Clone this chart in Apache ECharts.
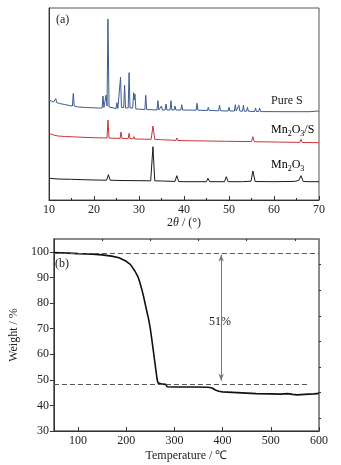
<!DOCTYPE html>
<html>
<head>
<meta charset="utf-8">
<script src="https://cdn.jsdelivr.net/npm/echarts@6/dist/echarts.min.js"></script>
<style>
  html, body { margin: 0; padding: 0; background: #fff; }
  #main { width: 341px; height: 465px; }
</style>
</head>
<body>
<div id="main"></div>
<script>
// (a) XRD patterns, [2theta, intensity in a.u. with stacking offset]
var pureS = [[10,100],[10.5,99],[11,98],[11.3,98],[11.5,101.5],[11.7,97.5],[12.3,96.5],[13.5,95.5],[14.5,94.5],[15.2,94],[15.4,106.5],[15.6,94],
  [16.5,93],[18.3,92.5],[18.5,94.5],[18.7,92.5],[21,92],[21.8,92],[22.0,104],[22.2,92.5],[22.5,93],[22.7,105],[22.9,94],[23.1,181],[23.35,93],
  [24.9,91.5],[25.1,97.3],[25.3,91.5],[25.7,92],[25.9,122.7],[26.1,92.5],[26.6,92.5],[26.8,114.7],[27.0,92],[27.6,92],[27.8,127.3],[28.0,92],
  [28.6,92],[28.8,107.3],[28.95,100],[29.1,106],[29.3,91],[31.3,90.5],[31.5,104.7],[31.7,90.5],[34.0,90],[34.2,99.3],[34.4,90],[34.8,90],
  [35.0,94],[35.2,90],[35.8,90],[36.0,96],[36.2,90],[36.9,90],[37.1,99.3],[37.3,90],[37.8,90],[38.0,94],[38.2,90],[39.3,90],[39.5,95.3],
  [39.7,90],[42.7,89.8],[42.9,96.7],[43.1,89.8],[45.2,89.5],[45.4,92.7],[45.6,89.5],[45.85,89.5],[46.0,91.3],[46.15,89.5],[47.7,89.2],
  [47.9,94.7],[48.1,89.2],[49.8,89],[50.0,92.7],[50.2,89],[51.2,89],[51.4,95.3],[51.6,89],[52.0,89],[52.2,94.7],[52.4,89],[53.0,88.8],
  [53.2,94.7],[53.4,88.8],[53.9,88.8],[54.1,92.7],[54.3,88.8],[55.7,88.5],[55.9,92],[56.1,88.5],[56.6,88.5],[56.8,92],[57.0,88.5],
  [57.2,88.5],[57.35,90.5],[57.5,88.4],[58.4,88.4],[58.6,90],[58.8,88.3],[62,88.3],[65.4,88.3],[65.6,90],[65.8,88.3],[66.0,88.3],
  [66.2,89.5],[66.4,88.3],[68,88.3],[69.7,89],[70,88.3]];
var mnS = [[10,66.7],[11,65],[12,64],[13.5,63.5],[15.3,63.2],[15.5,64.5],[15.7,63],[18,62.6],[20,62.3],[22.9,62],[23.1,80],[23.35,62],
  [24,61.8],[25.8,61.6],[26.0,68],[26.2,61.6],[26.7,61.5],[26.8,63.5],[26.9,61.5],[27.6,61.4],[27.8,66.7],[28.0,61.4],[28.7,61.2],
  [28.9,63.3],[29.1,61],[31.3,60.8],[31.5,62.5],[31.7,60.8],[32.7,60.7],[33.1,74],[33.5,60.6],[35,60.3],[38.2,59.6],[38.4,62],[38.6,59.5],
  [40,59.3],[45.2,59],[45.4,60],[45.6,59],[49.2,58.7],[49.4,60],[49.6,58.7],[55.0,58.4],[55.3,63.3],[55.6,58.3],[60,58],[65.7,57.6],
  [66.0,60.7],[66.3,57.5],[70,57.3]];
var mn2o3 = [[10,21.7],[12,21],[15,20.7],[17.6,20.3],[17.7,21],[17.8,20.3],[20,20],[22.8,19.8],[23.2,25.3],[23.6,19.8],[26,19.5],[30,19.3],
  [32.6,19.2],[33.1,53.3],[33.5,19.2],[35,19],[38.0,18.6],[38.4,24.3],[38.8,18.5],[40,18.3],[45.0,18.3],[45.3,21.7],[45.7,18.3],[49.0,18.3],
  [49.4,23.3],[49.8,18.3],[53,18.3],[54.9,18.8],[55.3,29],[55.8,18.5],[60,18.3],[64.5,18.6],[64.9,20],[65.5,19.5],[66.0,24.3],[66.5,18.5],
  [68,18.3],[70,18.3]];

// (b) TGA, [temperature, weight %]
var tga = [[50,99.7],[80,99.5],[100,99.3],[130,99.1],[150,98.8],[170,98.3],[185,97.7],[200,96.3],[209,95],[218,92.5],[225,90],[228,88.2],
  [232,85.6],[236,82.6],[239,80],[243,76.6],[247,73.2],[250,70],[253,66],[256,61.8],[259,57.5],[262,53.2],[264,50.4],[266,48.8],[268,48.3],
  [275,48.3],[282,48.2],[285,47.3],[288,47],[300,47.2],[340,47.2],[370,47.1],[378,46.8],[385,46],[392,45.5],[400,45.3],[420,45.1],
  [450,44.8],[470,44.6],[500,44.5],[520,44.4],[535,44.6],[545,44.3],[555,44.1],[570,44.3],[590,44.5],[600,44.7]];

var tempTicks = [100, 200, 300, 400, 500, 600];
var tempMinor = [150, 250, 350, 450, 550];
var weightTicks = [30, 40, 50, 60, 70, 80, 90, 100];
var weightMinor = [35, 45, 55, 65, 75, 85, 95];
var topLevel = 99.6, bottomLevel = 48.1;

var font = "'Liberation Serif', 'Times New Roman', serif";
var ink = '#222';
var lbl = { fontFamily: font, fontSize: 12, color: ink };
var subRich = {
    m: { fontFamily: font, fontSize: 12, color: ink, lineHeight: 16 },
    s: { fontFamily: font, fontSize: 8, color: ink, lineHeight: 8, verticalAlign: 'bottom' }
};

var myChart = echarts.init(document.getElementById('main'));
var option = {
    backgroundColor: '#fff',
    animation: false,
    grid: [
        { left: 49, top: 8, width: 270, height: 192, show: true, borderColor: '#555', borderWidth: 1 },
        { left: 49, top: 239, width: 270, height: 192, show: true, borderColor: '#666', borderWidth: 1.5 }
    ],
    xAxis: [
        {
            gridIndex: 0, type: 'value', min: 10, max: 70, interval: 10,
            axisLine: { lineStyle: { color: '#333', width: 1 } },
            axisTick: { inside: true, length: 4, lineStyle: { color: '#333' } },
            minorTick: { show: true, splitNumber: 2, length: 2, lineStyle: { color: '#333' } },
            splitLine: { show: false },
            axisLabel: Object.assign({ margin: 4 }, lbl),
            name: '{n|2}{i|θ}{n| / (°)}', nameLocation: 'middle', nameGap: 16,
            nameTextStyle: { rich: { n: lbl, i: Object.assign({ fontStyle: 'italic' }, lbl) } }
        },
        {
            gridIndex: 1, type: 'value', min: 50, max: 600,
            axisLine: { lineStyle: { color: '#333', width: 1 } },
            axisTick: { inside: true, length: 4, customValues: tempTicks, lineStyle: { color: '#333' } },
            splitLine: { show: false },
            axisLabel: Object.assign({ margin: 4, customValues: tempTicks }, lbl),
            name: 'Temperature / ℃', nameLocation: 'middle', nameGap: 19,
            nameTextStyle: lbl
        },
        {
            gridIndex: 1, type: 'value', min: 50, max: 600,
            axisLine: { show: false },
            axisTick: { inside: true, length: 2, customValues: tempMinor, lineStyle: { color: '#333' } },
            axisLabel: { show: false }, splitLine: { show: false }
        }
    ],
    yAxis: [
        {
            gridIndex: 0, type: 'value', min: 0, max: 192,
            axisLine: { show: true, lineStyle: { color: '#333', width: 1 } },
            axisTick: { show: false }, axisLabel: { show: false }, splitLine: { show: false }
        },
        {
            gridIndex: 1, type: 'value', min: 30, max: 105,
            axisLine: { show: true, lineStyle: { color: '#333', width: 1 } },
            axisTick: { length: 4, customValues: weightTicks, lineStyle: { color: '#333' } },
            axisLabel: Object.assign({ margin: 5, customValues: weightTicks }, lbl),
            splitLine: { show: false },
            name: 'Weight / %', nameLocation: 'middle', nameGap: 30,
            nameTextStyle: lbl
        },
        {
            gridIndex: 1, type: 'value', min: 30, max: 105,
            axisLine: { show: false },
            axisTick: { length: 2, customValues: weightMinor, lineStyle: { color: '#333' } },
            axisLabel: { show: false }, splitLine: { show: false }
        }
    ],
    series: [
        { name: 'Pure S', type: 'line', xAxisIndex: 0, yAxisIndex: 0, data: pureS, showSymbol: false,
          lineStyle: { color: '#3b5c8f', width: 1 } },
        { name: 'Mn2O3/S', type: 'line', xAxisIndex: 0, yAxisIndex: 0, data: mnS, showSymbol: false,
          lineStyle: { color: '#c8363c', width: 1 } },
        { name: 'Mn2O3', type: 'line', xAxisIndex: 0, yAxisIndex: 0, data: mn2o3, showSymbol: false,
          lineStyle: { color: '#1a1a1a', width: 1 } },
        { name: 'TGA', type: 'line', xAxisIndex: 1, yAxisIndex: 1, data: tga, showSymbol: false,
          lineStyle: { color: '#111', width: 1.6 },
          markLine: {
              silent: true,
              symbol: ['none', 'none'],
              label: { show: false },
              lineStyle: { color: '#555', type: [5, 3], width: 1.2 },
              data: [
                  [{ coord: [50, topLevel] }, { coord: [600, topLevel] }],
                  [{ coord: [50, bottomLevel] }, { coord: [575, bottomLevel] }],
                  [{ coord: [397, 98.9], symbol: 'arrow', symbolSize: [4, 7], itemStyle: { color: '#222' } },
                   { coord: [397, 49.6], symbol: 'arrow', symbolSize: [4, 7], itemStyle: { color: '#222' },
                     lineStyle: { color: '#777', type: 'solid', width: 1 } }]
              ]
          } }
    ],
    graphic: [
        { type: 'text', left: 56, top: 14, style: { text: '(a)', font: '12px ' + font, fill: ink } },
        { type: 'text', left: 55, top: 258, style: { text: '(b)', font: '12px ' + font, fill: ink } },
        { type: 'text', x: 271, y: 101, style: { text: 'Pure S', font: '12px ' + font, fill: ink, verticalAlign: 'middle' } },
        { type: 'text', x: 271, y: 130, style: { text: '{m|Mn}{s|2}{m|O}{s|3}{m|/S}', rich: subRich, verticalAlign: 'middle' } },
        { type: 'text', x: 271, y: 165, style: { text: '{m|Mn}{s|2}{m|O}{s|3}', rich: subRich, verticalAlign: 'middle' } },
        { type: 'text', x: 220, y: 322, style: { text: '51%', font: '12px ' + font, fill: ink, align: 'center', verticalAlign: 'middle',
          backgroundColor: '#fff', padding: [2, 0, 2, 0] } }
    ]
};
myChart.setOption(option);
</script>
</body>
</html>
